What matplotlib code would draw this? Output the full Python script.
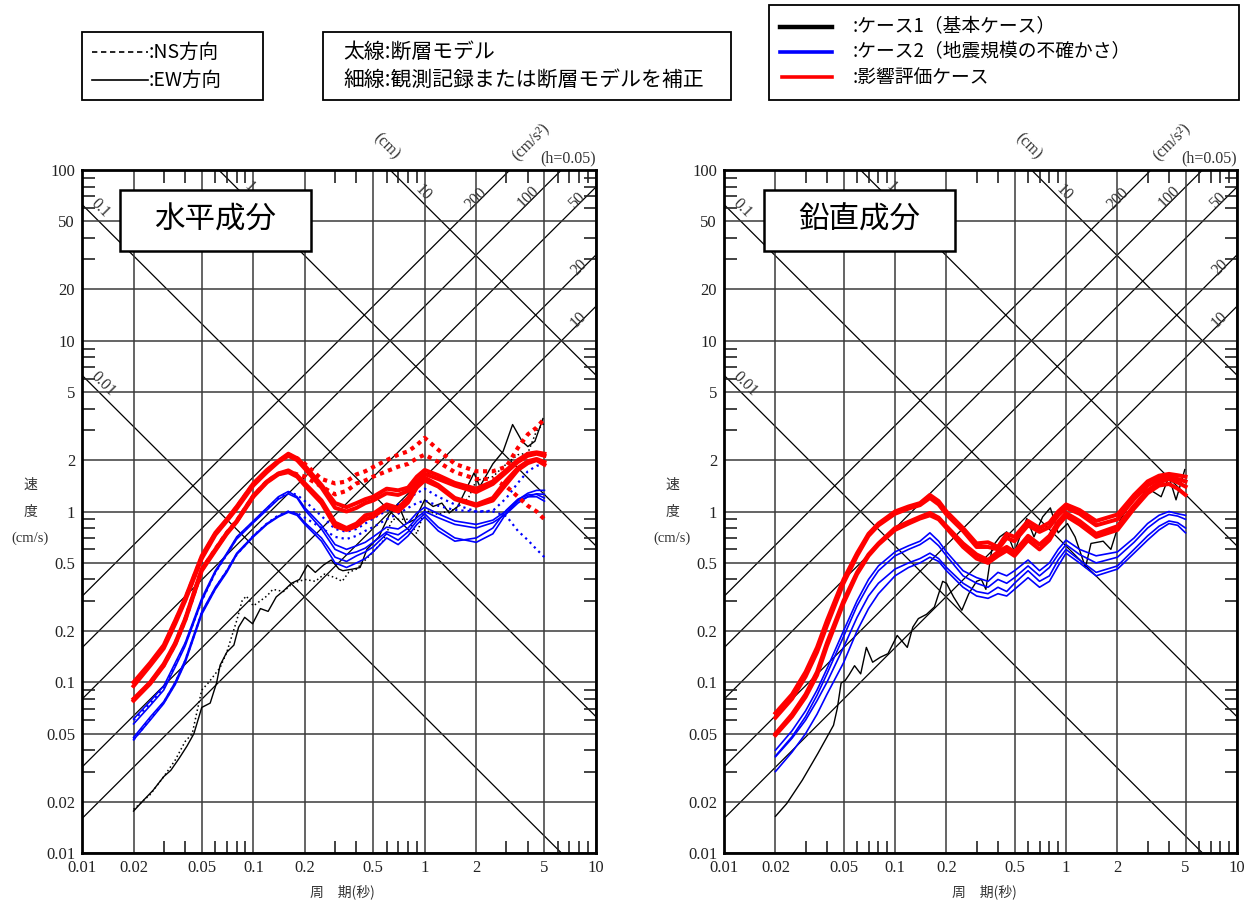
import numpy as np
import matplotlib.pyplot as plt
from matplotlib.patches import Rectangle
from matplotlib.lines import Line2D
from matplotlib.ticker import NullFormatter

plt.rcParams['font.family'] = ['Noto Sans CJK JP', 'DejaVu Sans']
SERIF = ['Liberation Serif', 'DejaVu Serif']

# ---- data ----
PERIOD = [0.02, 0.025, 0.03, 0.035, 0.04, 0.05, 0.06, 0.07, 0.08, 0.1, 0.12, 0.14, 0.16, 0.18, 0.2,
          0.25, 0.3, 0.35, 0.4, 0.45, 0.5, 0.6, 0.7, 0.8, 0.9, 1.0, 1.2, 1.5, 2.0, 2.5, 3.0, 3.5, 4.0, 4.5, 5.0]

# horizontal component, fault model (thick red), EW solid
h_red_ew_1 = [0.1, 0.13, 0.165, 0.23, 0.31, 0.55, 0.75, 0.9, 1.07, 1.46, 1.75, 1.98, 2.18, 2.05, 1.85,
              1.43, 1.12, 1.06, 1.12, 1.18, 1.22, 1.36, 1.33, 1.38, 1.6, 1.75, 1.63, 1.47, 1.36, 1.5, 1.75, 2.0, 2.18, 2.22, 2.18]
h_red_ew_2 = [0.095, 0.125, 0.158, 0.22, 0.3, 0.53, 0.73, 0.88, 1.04, 1.42, 1.7, 1.95, 2.12, 2.0, 1.78,
              1.38, 1.05, 1.0, 1.05, 1.12, 1.16, 1.28, 1.25, 1.32, 1.5, 1.66, 1.55, 1.42, 1.3, 1.45, 1.7, 1.95, 2.12, 2.18, 2.12]
h_red_ew_3 = [0.08, 0.1, 0.128, 0.17, 0.235, 0.46, 0.6, 0.75, 0.88, 1.24, 1.5, 1.67, 1.74, 1.63, 1.46,
              1.16, 0.86, 0.8, 0.85, 0.95, 0.97, 1.1, 1.05, 1.2, 1.45, 1.58, 1.43, 1.2, 1.1, 1.2, 1.52, 1.8, 1.97, 2.03, 1.95]
h_red_ew_4 = [0.078, 0.098, 0.125, 0.166, 0.23, 0.45, 0.59, 0.74, 0.87, 1.22, 1.48, 1.65, 1.7, 1.6, 1.42,
              1.12, 0.82, 0.78, 0.82, 0.9, 0.93, 1.06, 1.0, 1.13, 1.38, 1.52, 1.4, 1.18, 1.08, 1.16, 1.45, 1.75, 1.92, 2.0, 1.88]
# NS dotted
h_red_ns_1 = [0.098, 0.128, 0.162, 0.226, 0.305, 0.54, 0.74, 0.89, 1.06, 1.45, 1.73, 1.97, 2.15, 2.05, 1.9,
              1.55, 1.46, 1.5, 1.65, 1.72, 1.82, 2.0, 2.15, 2.25, 2.45, 2.7, 2.3, 1.9, 1.72, 1.72, 1.83, 2.36, 2.83, 3.1, 3.5]
h_red_ns_2 = [0.079, 0.099, 0.126, 0.168, 0.232, 0.455, 0.6, 0.75, 0.88, 1.23, 1.5, 1.66, 1.72, 1.65, 1.6,
              1.4, 1.26, 1.32, 1.46, 1.52, 1.6, 1.72, 1.83, 1.9, 2.05, 2.15, 1.95, 1.7, 1.55, 1.55, 1.4, 1.22, 1.08, 1.0, 0.9]

# horizontal component, case 2 (thin blue)
h_blue_ew_1 = [0.061, 0.0775, 0.095, 0.13, 0.17, 0.31, 0.45, 0.57, 0.71, 0.88, 1.05, 1.22, 1.31, 1.22, 1.05,
               0.83, 0.64, 0.6, 0.63, 0.66, 0.71, 0.81, 0.79, 0.86, 0.98, 1.06, 0.97, 0.88, 0.84, 0.89, 1.01, 1.17, 1.28, 1.33, 1.33]
h_blue_ew_2 = [0.057, 0.073, 0.09, 0.123, 0.163, 0.3, 0.44, 0.56, 0.69, 0.86, 1.02, 1.18, 1.27, 1.2, 1.02,
               0.79, 0.6, 0.56, 0.58, 0.61, 0.66, 0.76, 0.73, 0.8, 0.92, 1.0, 0.92, 0.84, 0.8, 0.86, 0.97, 1.12, 1.22, 1.27, 1.26]
h_blue_ew_3 = [0.0475, 0.0625, 0.077, 0.1, 0.135, 0.258, 0.36, 0.45, 0.57, 0.72, 0.85, 0.94, 1.0, 0.97, 0.86,
               0.7, 0.54, 0.51, 0.55, 0.58, 0.62, 0.74, 0.68, 0.76, 0.88, 0.97, 0.81, 0.7, 0.66, 0.74, 0.98, 1.15, 1.22, 1.22, 1.15]
h_blue_ew_4 = [0.046, 0.06, 0.075, 0.097, 0.13, 0.25, 0.35, 0.44, 0.56, 0.71, 0.84, 0.93, 0.99, 0.95, 0.84,
               0.67, 0.5, 0.47, 0.5, 0.53, 0.58, 0.7, 0.64, 0.72, 0.84, 0.93, 0.77, 0.67, 0.7, 0.8, 1.02, 1.18, 1.25, 1.26, 1.2]
h_blue_ns_1 = [0.06, 0.075, 0.093, 0.126, 0.167, 0.3, 0.44, 0.56, 0.7, 0.87, 1.04, 1.2, 1.3, 1.25, 1.15,
               0.94, 0.79, 0.76, 0.79, 0.85, 0.91, 1.01, 1.1, 1.2, 1.28, 1.36, 1.22, 1.1, 1.0, 1.01, 1.2, 1.47, 1.72, 1.85, 1.9]
h_blue_ns_2 = [0.046, 0.061, 0.076, 0.099, 0.133, 0.255, 0.355, 0.45, 0.56, 0.72, 0.85, 0.95, 1.0, 0.98, 0.92,
               0.8, 0.71, 0.69, 0.72, 0.77, 0.81, 0.9, 0.97, 1.05, 1.12, 1.16, 1.08, 1.02, 1.0, 1.0, 0.94, 0.77, 0.68, 0.6, 0.54]

# horizontal component, case 1 observed record (thin black)
h_obs_ew_t = [0.02, 0.023, 0.026, 0.03, 0.033, 0.037, 0.041, 0.045, 0.05, 0.056, 0.061, 0.064, 0.07, 0.077, 0.082,
              0.089, 0.099, 0.11, 0.122, 0.136, 0.151, 0.167, 0.186, 0.207, 0.23, 0.257, 0.285, 0.316, 0.333, 0.38,
              0.42, 0.46, 0.54, 0.62, 0.7, 0.78, 0.88, 1.0, 1.12, 1.26, 1.39, 1.56, 1.94, 2.1, 2.5, 2.87, 3.26, 3.7,
              4.0, 4.4, 4.9]
h_obs_ew_v = [0.0176, 0.0205, 0.0233, 0.028, 0.0305, 0.036, 0.0423, 0.05, 0.0712, 0.0755, 0.099, 0.126, 0.15, 0.165, 0.21,
              0.24, 0.22, 0.27, 0.26, 0.316, 0.345, 0.38, 0.4, 0.486, 0.44, 0.486, 0.52, 0.46, 0.45, 0.46,
              0.47, 0.6, 0.71, 0.95, 1.1, 0.85, 0.9, 1.17, 1.07, 1.12, 0.98, 1.07, 1.68, 1.4, 1.9, 2.25, 3.23, 2.58,
              2.4, 2.58, 3.5]
h_obs_ns_t = [0.02, 0.025, 0.03, 0.035, 0.04, 0.044, 0.047, 0.05, 0.055, 0.064, 0.07, 0.08, 0.086, 0.091, 0.1, 0.11,
              0.12, 0.13, 0.15, 0.17, 0.2, 0.23, 0.26, 0.3, 0.33, 0.36, 0.4, 0.45, 0.5, 0.57, 0.65, 0.8, 0.9, 1.0,
              1.2, 1.3, 1.5, 1.8, 2.0, 2.5, 3.0, 3.5, 4.0, 4.5, 5.0]
h_obs_ns_v = [0.018, 0.022, 0.028, 0.035, 0.045, 0.05, 0.068, 0.09, 0.1, 0.122, 0.15, 0.23, 0.3, 0.32, 0.28, 0.3,
              0.32, 0.35, 0.34, 0.38, 0.4, 0.39, 0.43, 0.41, 0.39, 0.44, 0.46, 0.52, 0.58, 0.67, 0.9, 0.9, 0.74, 1.02,
              0.96, 0.99, 1.03, 1.2, 1.52, 1.6, 1.9, 2.15, 2.2, 2.97, 3.3]

# vertical component
v_red_1 = [0.066, 0.085, 0.115, 0.16, 0.23, 0.4, 0.57, 0.74, 0.85, 1.0, 1.07, 1.12, 1.25, 1.15, 1.0,
           0.8, 0.65, 0.66, 0.62, 0.74, 0.71, 0.88, 0.8, 0.86, 1.0, 1.1, 1.02, 0.88, 0.96, 1.25, 1.5, 1.62, 1.66, 1.63, 1.6]
v_red_2 = [0.062, 0.08, 0.108, 0.15, 0.215, 0.38, 0.55, 0.72, 0.83, 0.97, 1.04, 1.09, 1.2, 1.1, 0.96,
           0.77, 0.62, 0.62, 0.6, 0.7, 0.67, 0.83, 0.76, 0.81, 0.95, 1.05, 0.97, 0.83, 0.9, 1.18, 1.42, 1.55, 1.6, 1.55, 1.5]
v_red_3 = [0.05, 0.065, 0.085, 0.115, 0.17, 0.3, 0.44, 0.56, 0.65, 0.8, 0.87, 0.93, 0.98, 0.92, 0.82,
           0.65, 0.56, 0.52, 0.58, 0.62, 0.58, 0.72, 0.64, 0.72, 0.87, 0.98, 0.88, 0.74, 0.82, 1.08, 1.33, 1.48, 1.55, 1.48, 1.4]
v_red_4 = [0.049, 0.063, 0.082, 0.11, 0.163, 0.29, 0.43, 0.55, 0.64, 0.78, 0.85, 0.91, 0.95, 0.9, 0.8,
           0.62, 0.53, 0.5, 0.55, 0.59, 0.55, 0.68, 0.6, 0.68, 0.83, 0.94, 0.84, 0.71, 0.78, 1.04, 1.28, 1.42, 1.45, 1.36, 1.25]
v_blue_1 = [0.04, 0.052, 0.068, 0.09, 0.12, 0.2, 0.3, 0.4, 0.48, 0.58, 0.63, 0.67, 0.75, 0.67, 0.58,
            0.45, 0.41, 0.39, 0.44, 0.42, 0.45, 0.52, 0.45, 0.5, 0.6, 0.68, 0.6, 0.55, 0.58, 0.7, 0.85, 0.95, 1.0, 0.97, 0.95]
v_blue_2 = [0.037, 0.048, 0.063, 0.084, 0.112, 0.185, 0.28, 0.37, 0.45, 0.55, 0.6, 0.64, 0.7, 0.63, 0.55,
            0.42, 0.38, 0.36, 0.4, 0.38, 0.41, 0.48, 0.42, 0.47, 0.56, 0.64, 0.56, 0.5, 0.54, 0.66, 0.8, 0.9, 0.96, 0.94, 0.9]
v_blue_3 = [0.0366, 0.047, 0.06, 0.078, 0.1, 0.16, 0.24, 0.32, 0.38, 0.46, 0.5, 0.53, 0.57, 0.53, 0.47,
            0.38, 0.34, 0.33, 0.36, 0.34, 0.38, 0.45, 0.39, 0.42, 0.52, 0.6, 0.52, 0.44, 0.48, 0.6, 0.72, 0.82, 0.88, 0.86, 0.8]
v_blue_4 = [0.03, 0.039, 0.05, 0.065, 0.085, 0.13, 0.2, 0.27, 0.33, 0.42, 0.47, 0.5, 0.54, 0.51, 0.45,
            0.36, 0.32, 0.31, 0.33, 0.32, 0.35, 0.41, 0.36, 0.39, 0.48, 0.57, 0.5, 0.42, 0.46, 0.57, 0.68, 0.78, 0.85, 0.83, 0.75]
v_obs_t = [0.02, 0.0233, 0.0287, 0.0354, 0.0437, 0.046, 0.0484, 0.051, 0.054, 0.058, 0.063, 0.068, 0.074, 0.082,
           0.091, 0.103, 0.118, 0.127, 0.137, 0.153, 0.17, 0.19, 0.2, 0.22, 0.246, 0.27, 0.3, 0.32, 0.34, 0.37,
           0.41, 0.45, 0.5, 0.55, 0.59, 0.65, 0.73, 0.81, 0.9, 1.02, 1.13, 1.3, 1.4, 1.65, 1.83, 2.07, 2.55,
           3.1, 3.6, 4.0, 4.4, 4.95]
v_obs_v = [0.0164, 0.0195, 0.0267, 0.0383, 0.056, 0.0705, 0.099, 0.102, 0.111, 0.125, 0.112, 0.16, 0.131, 0.14,
           0.147, 0.188, 0.16, 0.21, 0.236, 0.25, 0.276, 0.39, 0.38, 0.316, 0.264, 0.33, 0.39, 0.4, 0.35, 0.62,
           0.71, 0.76, 0.58, 0.76, 0.91, 0.71, 0.93, 1.05, 0.75, 0.85, 0.71, 0.47, 0.65, 0.67, 0.6, 0.89, 1.25,
           1.34, 1.22, 1.6, 1.17, 1.76]

# tripartite scale lines
DISP_CM = [0.01, 0.1, 1, 10]
ACC_CMS2 = [10, 20, 50, 100, 200]
TICKS = [0.01, 0.02, 0.05, 0.1, 0.2, 0.5, 1, 2, 5, 10, 20, 50, 100]
TICK_LABELS = ['0.01', '0.02', '0.05', '0.1', '0.2', '0.5', '1', '2', '5', '10', '20', '50', '100']

RED = '#ff0000'
BLUE = '#0000ff'

W, H = 1249, 901
fig = plt.figure(figsize=(W / 100, H / 100), dpi=100)


def setup(ax, title, box_x0, box_x1):
    ax.set_xscale('log')
    ax.set_yscale('log')
    ax.set_xlim(0.01, 10)
    ax.set_ylim(0.01, 100)
    ax.set_xticks(TICKS[:10], TICK_LABELS[:10])
    ax.set_yticks(TICKS, TICK_LABELS)
    minors = [m * 10.0 ** e for e in range(-2, 2) for m in (3, 4, 6, 7, 8, 9)]
    ax.set_xticks([m for m in minors if m < 10], minor=True)
    ax.set_yticks(minors, minor=True)
    ax.xaxis.set_minor_formatter(NullFormatter())
    ax.yaxis.set_minor_formatter(NullFormatter())
    for lab in ax.get_xticklabels() + ax.get_yticklabels():
        lab.set_fontfamily(SERIF)
        lab.set_fontsize(12)
        lab.set_color('#222222')
    ax.tick_params(which='both', direction='in', top=True, right=True)
    ax.tick_params(which='major', length=0, pad=5)
    ax.tick_params(which='minor', length=9, width=1.2, color='#222222')
    ax.grid(True, which='major', color='#3a3a3a', lw=1.1, zorder=0)
    for s in ax.spines.values():
        s.set_linewidth(2)

    t = np.array([0.01, 10.0])
    for d in DISP_CM:
        ax.plot(t, 2 * np.pi * d / t, color='black', lw=0.9, zorder=1)
    for a in ACC_CMS2:
        ax.plot(t, a * t / (2 * np.pi), color='black', lw=0.9, zorder=1)

    lab_kw = dict(fontfamily=SERIF, fontsize=11.5, color='#333333', ha='center', va='center',
                  rotation_mode='anchor', clip_on=False, zorder=2)
    for s, x, y in [('0.1', 0.0128, 60), ('0.01', 0.0132, 5.6), ('1', 0.095, 80), ('10', 0.98, 74)]:
        ax.text(x, y, s, rotation=-45, **lab_kw)
    ax.text(0.6, 138, '(cm)', rotation=-45, **lab_kw)
    for s, x, y in [('200', 2.0, 68), ('100', 4.0, 70), ('50', 7.7, 66), ('20', 8.0, 27), ('10', 7.9, 13.3)]:
        ax.text(x, y, s, rotation=45, **lab_kw)
    ax.text(4.2, 145, '(cm/s²)', rotation=45, **lab_kw)
    ax.text(6.9, 117, '(h=0.05)', rotation=0, **lab_kw)

    ax.add_patch(Rectangle((box_x0, 0.881), box_x1 - box_x0, 0.09, transform=ax.transAxes,
                           facecolor='white', edgecolor='black', lw=1.8, zorder=6))
    ax.text((box_x0 + box_x1) / 2, 0.926, title, transform=ax.transAxes, fontsize=22,
            ha='center', va='center', zorder=7)


def curve(ax, t, v, color, lw, dotted=False):
    ls = '-'
    if dotted:
        ls = (0, (1, 1.1)) if lw > 2 else (0, (1, 1.8))
    ax.plot(t, v, color=color, lw=lw, ls=ls, zorder=4, solid_joinstyle='round')


axL = fig.add_axes([82 / W, 1 - 853 / H, 514 / W, 683 / H])
axR = fig.add_axes([724 / W, 1 - 853 / H, 513 / W, 683 / H])
setup(axL, '水平成分', 0.074, 0.4455)
setup(axR, '鉛直成分', 0.078, 0.45)

# horizontal panel curves
curve(axL, h_obs_ns_t, h_obs_ns_v, 'black', 1.1, dotted=True)
curve(axL, h_obs_ew_t, h_obs_ew_v, 'black', 1.0)
for v in (h_blue_ns_1, h_blue_ns_2):
    curve(axL, PERIOD, v, BLUE, 1.6, dotted=True)
for v in (h_blue_ew_1, h_blue_ew_2, h_blue_ew_3, h_blue_ew_4):
    curve(axL, PERIOD, v, BLUE, 1.2)
for v in (h_red_ns_1, h_red_ns_2):
    curve(axL, PERIOD, v, RED, 3.0, dotted=True)
for v in (h_red_ew_1, h_red_ew_2, h_red_ew_3, h_red_ew_4):
    curve(axL, PERIOD, v, RED, 2.9)

# vertical panel curves
curve(axR, v_obs_t, v_obs_v, 'black', 1.0)
for v in (v_blue_1, v_blue_2, v_blue_3, v_blue_4):
    curve(axR, PERIOD, v, BLUE, 1.2)
for v in (v_red_1, v_red_2, v_red_3, v_red_4):
    curve(axR, PERIOD, v, RED, 2.9)

# axis titles
for x0 in (30, 672):
    fig.text(x0 / W, 1 - 485 / H, '速', fontsize=10, color='#333333', ha='center', va='center')
    fig.text(x0 / W, 1 - 512 / H, '度', fontsize=10, color='#333333', ha='center', va='center')
    fig.text(x0 / W, 1 - 538 / H, '(cm/s)', fontsize=10.5, color='#333333', ha='center', va='center',
             fontfamily=SERIF)
for x0 in (342, 984):
    fig.text(x0 / W, 1 - 892 / H, '周　期(秒)', fontsize=10, color='#333333', ha='center', va='center')


# legend boxes at top
def fig_box(x0, y0, x1, y1):
    fig.add_artist(Rectangle((x0 / W, 1 - y1 / H), (x1 - x0) / W, (y1 - y0) / H,
                             transform=fig.transFigure, facecolor='white', edgecolor='black', lw=1.3))


def fig_line(x0, x1, y, color, lw, ls='-'):
    fig.add_artist(Line2D([x0 / W, x1 / W], [1 - y / H, 1 - y / H], transform=fig.transFigure,
                          color=color, lw=lw, ls=ls))


fig_box(82, 32, 263, 100)
fig_line(92, 148, 52, 'black', 1.2, ls=(0, (3.2, 2.2)))
fig_line(92, 148, 80, 'black', 1.2)
fig.text(149 / W, 1 - 52 / H, ':NS方向', fontsize=14, ha='left', va='center')
fig.text(149 / W, 1 - 80 / H, ':EW方向', fontsize=14, ha='left', va='center')

fig_box(323, 32, 731, 100)
fig.text(343 / W, 1 - 52 / H, '太線:断層モデル', fontsize=15, ha='left', va='center')
fig.text(343 / W, 1 - 80 / H, '細線:観測記録または断層モデルを補正', fontsize=15, ha='left', va='center')

fig_box(769, 5, 1239, 100)
fig_line(780, 832, 27, 'black', 3.2)
fig_line(780, 832, 52, BLUE, 2.6)
fig_line(782, 832, 77, RED, 2.6)
fig.text(853 / W, 1 - 27 / H, ':ケース1（基本ケース）', fontsize=13.5, ha='left', va='center')
fig.text(853 / W, 1 - 52 / H, ':ケース2（地震規模の不確かさ）', fontsize=13.5, ha='left', va='center')
fig.text(853 / W, 1 - 77 / H, ':影響評価ケース', fontsize=13.5, ha='left', va='center')

fig.savefig('out.png', dpi=100)
